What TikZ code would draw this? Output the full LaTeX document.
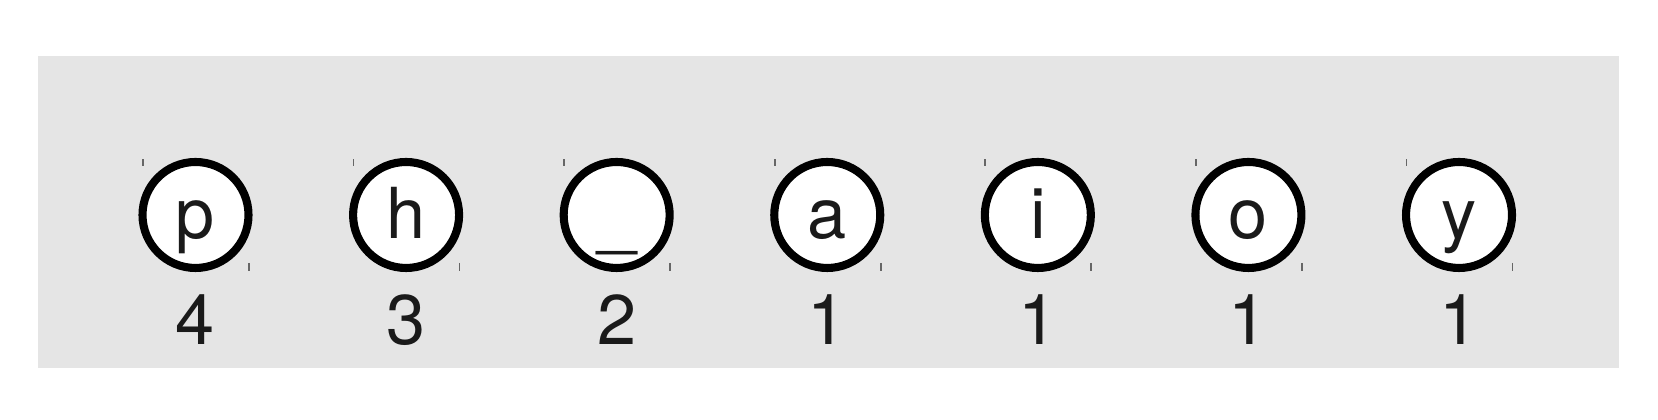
\documentclass[tikz,border=0pt]{standalone}
\usepackage{fontspec}
\setmainfont{TeX Gyre Heros}
\usepackage{xcolor}
\usepackage{tikz}
\usetikzlibrary{positioning}

\definecolor{panelgray}{HTML}{E5E5E5}
\definecolor{inkgray}{HTML}{1A1A1A}

\begin{document}
\begin{tikzpicture}[
    node distance=0.965cm,
    letter/.style={
        circle,
        draw=black,
        line width=2.3pt,
        fill=white,
        inner sep=0pt,
        minimum size=1.06cm,
        text height=0.56cm,
        text depth=0.08cm,
        text=inkgray,
        font=\fontsize{20}{24}\selectfont
    },
    count/.style={anchor=base, inner sep=0pt, text=inkgray, font=\fontsize{20}{24}\selectfont},
    tick/.style={line width=0.5pt, draw=black!60}
]

\useasboundingbox (0,0) rectangle (16.58,-4.2);

% Background panel
\fill[panelgray] (0.38,-0.56) rectangle (16.19,-3.68);

% Letter circles
\node[letter] (p) at (1.955,-2.15) {p};
\node[letter] (h) [right=of p] {h};
\node[letter] (us) [right=of h] {\raisebox{-0.035cm}{\_}};
\node[letter] (a) [right=of us] {a};
\node[letter] (i) [right=of a] {i};
\node[letter] (o) [right=of i] {o};
\node[letter] (y) [right=of o] {y};

% Counts under each letter
\node[count] (np) at ([yshift=-1.3cm]p.center) {4};
\node[count] (nh) at ([yshift=-1.3cm]h.center) {3};
\node[count] (nus) at ([yshift=-1.3cm]us.center) {2};
\node[count] (na) at ([yshift=-1.3cm]a.center) {1};
\node[count] (ni) at ([yshift=-1.3cm]i.center) {1};
\node[count] (no) at ([yshift=-1.3cm]o.center) {1};
\node[count] (ny) at ([yshift=-1.3cm]y.center) {1};

% Corner ticks
\draw[tick] ([shift={(-0.525,0.49)}]p.center) -- ++(0,0.07) ([shift={(0.535,-0.48)}]p.center) -- ++(0,-0.08);
\draw[tick] ([shift={(-0.525,0.49)}]h.center) -- ++(0,0.07) ([shift={(0.535,-0.48)}]h.center) -- ++(0,-0.08);
\draw[tick] ([shift={(-0.525,0.49)}]us.center) -- ++(0,0.07) ([shift={(0.535,-0.48)}]us.center) -- ++(0,-0.08);
\draw[tick] ([shift={(-0.525,0.49)}]a.center) -- ++(0,0.07) ([shift={(0.535,-0.48)}]a.center) -- ++(0,-0.08);
\draw[tick] ([shift={(-0.525,0.49)}]i.center) -- ++(0,0.07) ([shift={(0.535,-0.48)}]i.center) -- ++(0,-0.08);
\draw[tick] ([shift={(-0.525,0.49)}]o.center) -- ++(0,0.07) ([shift={(0.535,-0.48)}]o.center) -- ++(0,-0.08);
\draw[tick] ([shift={(-0.525,0.49)}]y.center) -- ++(0,0.07) ([shift={(0.535,-0.48)}]y.center) -- ++(0,-0.08);

\end{tikzpicture}
\end{document}
